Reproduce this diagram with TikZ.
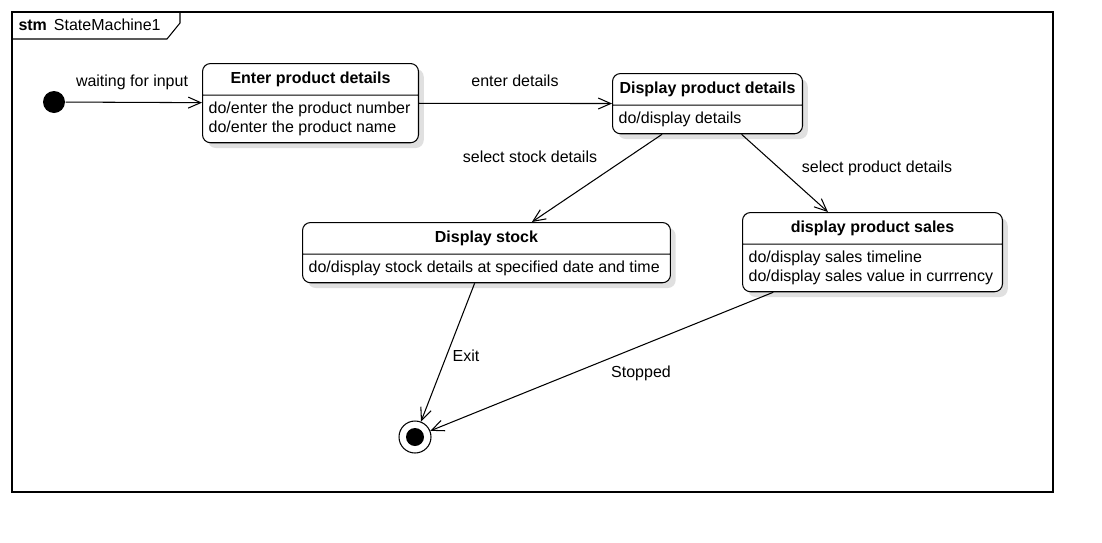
\documentclass[tikz,border=0pt]{standalone}
\usepackage{fontspec}
\setmainfont{Liberation Sans}
\usepackage{tikz}
\usetikzlibrary{shapes.multipart, positioning, shadows}
\usetikzlibrary{arrows.meta}
\tikzset{>={Straight Barb[length=2.5mm,width=2.2mm]}}
\newcommand{\sthead}[1]{\rule[-2.6pt]{0pt}{10.2pt}\textbf{#1}}

\begin{document}
\begin{tikzpicture}[x=0.02cm, y=-0.02cm, font=\fontsize{9.1}{10.8}\selectfont, line width=0.6pt,
  state/.style={rectangle split, rectangle split parts=2, rectangle split part align={center,left}, align=left, draw=black, fill=white, rounded corners=1.6mm, inner xsep=3.5pt, inner ysep=3.6pt, anchor=north west, drop shadow={shadow xshift=3pt, shadow yshift=-3pt, opacity=0.12, fill=black}},
  startnode/.style={circle, fill=black, inner sep=0pt, minimum size=0.44cm},
  endnode/.style={circle, draw=black, fill=white, inner sep=0pt, minimum size=0.64cm, path picture={\fill[black] (path picture bounding box.center) circle (0.18cm);}},
  lbl/.style={draw=none, fill=none, inner sep=0pt}]

    \useasboundingbox (0,0) rectangle (1102,542);

    %Frame
    \draw (12,12) rectangle (1053,492);
    \draw (12,39) -- (167,39) -- (180,23) -- (180,12);
    \node[lbl, anchor=west](title) at (18,25){\textbf{stm}\hspace{4pt}StateMachine1};

    %Nodes
    \node[startnode](init) at (54,102){};
    \node[state, minimum width=4.32cm](enter) at (202,63){\sthead{Enter product details}\nodepart{two}do/enter the product number\\do/enter the product name};
    \node[state, minimum width=3.8cm](details) at (612,73){\sthead{Display product details}\nodepart{two}do/display details};
    \node[state, minimum width=7.36cm](stock) at (302,222){\sthead{Display stock}\nodepart{two}do/display stock details at specified date and time};
    \node[state, minimum width=5.2cm](sales) at (742,212){\sthead{display product sales}\nodepart{two}do/display sales timeline\\do/display sales value in currrency};
    \node[endnode](final) at (415,437){};

    %Labels
    \node[lbl](l_wait) at (132,82){waiting for input};
    \node[lbl](l_enter) at (515,81){enter details};
    \node[lbl](l_stock) at (530,157){select stock details};
    \node[lbl](l_sales) at (877,168){select product details};
    \node[lbl](l_exit) at (466,356){Exit};
    \node[lbl](l_stop) at (641,373){Stopped};

    %Lines
    \draw[->] (init) -- (enter);
    \draw[->] (enter) -- (details);
    \draw[->] (details) -- (stock);
    \draw[->] (details) -- (sales);
    \draw[->] (stock) -- (final);
    \draw[->] (sales) -- (final);

\end{tikzpicture}
\end{document}
